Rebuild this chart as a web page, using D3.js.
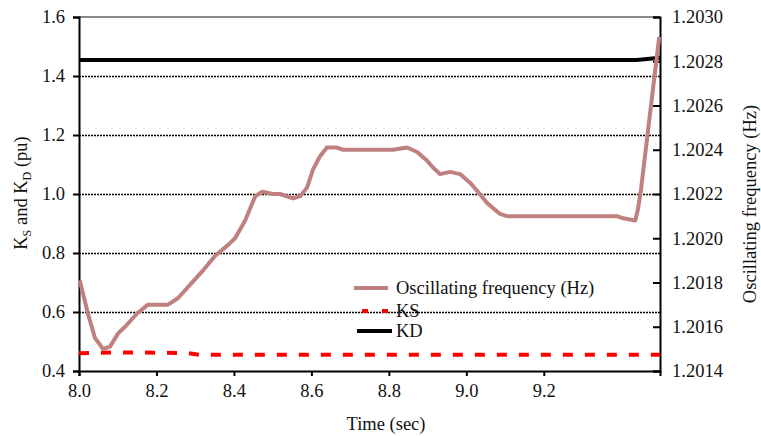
<!DOCTYPE html>
<html>
<head>
<meta charset="utf-8">
<script src="https://cdn.jsdelivr.net/npm/d3@7"></script>
<style>
  body { margin: 0; background: #fff; }
  svg text { font-family: "Liberation Serif", "Times New Roman", serif; }
</style>
</head>
<body>
<div id="chart"></div>
<script>
// oscillating frequency curve (Hz)
var freqTime = [8.002, 8.023, 8.041, 8.062, 8.080, 8.101, 8.119, 8.150, 8.178, 8.204,
  8.230, 8.256, 8.287, 8.318, 8.351, 8.385, 8.403, 8.429, 8.455, 8.473,
  8.501, 8.519, 8.553, 8.571, 8.589, 8.604, 8.622, 8.640, 8.666, 8.682,
  8.811, 8.847, 8.873, 8.899, 8.914, 8.932, 8.958, 8.984, 9.010, 9.030,
  9.053, 9.087, 9.105, 9.389, 9.405, 9.436, 9.443, 9.451, 9.472, 9.498];
var freqVal = [1.20181, 1.20166, 1.20155, 1.20150, 1.20151, 1.20157, 1.20160, 1.20166, 1.20170, 1.20170,
  1.20170, 1.20173, 1.20179, 1.20185, 1.20192, 1.20197, 1.20200, 1.20208, 1.20219, 1.20221,
  1.20220, 1.20220, 1.20218, 1.20219, 1.20223, 1.20231, 1.20237, 1.20241, 1.20241, 1.20240,
  1.20240, 1.20241, 1.20239, 1.20235, 1.20232, 1.20229, 1.20230, 1.20229, 1.20225, 1.20221,
  1.20216, 1.20211, 1.20210, 1.20210, 1.20209, 1.20208, 1.20213, 1.20222, 1.20253, 1.20291];

// KS and KD (pu)
var ksTime = [8.0, 8.05, 8.12, 8.28, 8.31, 9.5];
var ksVal = [0.460, 0.462, 0.463, 0.461, 0.455, 0.455];
var kdTime = [8.0, 9.44, 9.5];
var kdVal = [1.454, 1.454, 1.462];

var xTicks = [8.0, 8.2, 8.4, 8.6, 8.8, 9.0, 9.2];
var leftTicks = [0.4, 0.6, 0.8, 1.0, 1.2, 1.4, 1.6];
var gridTicks = [0.6, 0.8, 1.0, 1.2, 1.4];
var rightTicks = [1.2014, 1.2016, 1.2018, 1.2020, 1.2022, 1.2024, 1.2026, 1.2028, 1.2030];

var W = 761, H = 436;
var mLeft = 79, mRight = 660, mTop = 17, mBottom = 371;
var FS = 18.5;

var svg = d3.select("#chart")
  .append("svg")
    .attr("width", W)
    .attr("height", H)

svg.append("rect").attr("width", W).attr("height", H).attr("fill", "#fff")

var x = d3.scaleLinear().domain([8.0, 9.5]).range([mLeft, mRight]);
var yL = d3.scaleLinear().domain([0.4, 1.6]).range([mBottom, mTop]);
var yR = d3.scaleLinear().domain([1.2014, 1.2030]).range([mBottom, mTop]);

// dotted gridlines
svg.append("g").selectAll("line")
  .data(gridTicks)
  .enter().append("line")
    .attr("x1", mLeft).attr("x2", mRight)
    .attr("y1", function(d) { return Math.round(yL(d)) + 0.5; })
    .attr("y2", function(d) { return Math.round(yL(d)) + 0.5; })
    .attr("stroke", "#000")
    .attr("stroke-width", 1.4)
    .attr("stroke-dasharray", "2,1")

// grey top border
svg.append("line")
  .attr("x1", mLeft).attr("x2", mRight)
  .attr("y1", yL(1.6)).attr("y2", yL(1.6))
  .attr("stroke", "#8a8a8a")
  .attr("stroke-width", 2)

// axes
var axL = svg.append("g")
  .attr("transform", "translate(" + mLeft + ",0)")
  .call(d3.axisLeft(yL).tickValues(leftTicks).tickFormat(d3.format(".1f"))
    .tickSizeOuter(0).tickSize(6).tickPadding(8))

var axR = svg.append("g")
  .attr("transform", "translate(" + mRight + ",0)")
  .call(d3.axisRight(yR).tickValues(rightTicks).tickFormat(d3.format(".4f"))
    .tickSizeOuter(0).tickSize(-7).tickPadding(12))

var axB = svg.append("g")
  .attr("transform", "translate(0," + mBottom + ")")
  .call(d3.axisBottom(x).tickValues(xTicks).tickFormat(d3.format(".1f"))
    .tickSizeOuter(0).tickSize(5).tickPadding(8))

svg.selectAll(".tick text").attr("font-size", FS).attr("fill", "#111")
  .attr("font-family", '"Liberation Serif", "Times New Roman", serif')
svg.selectAll(".domain, .tick line").attr("stroke", "#000").attr("stroke-width", 2)

// series
var line = d3.line()
  .x(function(d) { return x(d[0]); })

var kd = kdTime.map(function(t, i) { return [t, kdVal[i]]; });
var ks = ksTime.map(function(t, i) { return [t, ksVal[i]]; });
var fr = freqTime.map(function(t, i) { return [t, freqVal[i]]; });

svg.append("path")
  .datum(kd)
  .attr("d", line.y(function(d) { return yL(d[1]); }))
  .attr("fill", "none")
  .attr("stroke", "#000")
  .attr("stroke-width", 4)

svg.append("path")
  .datum(ks)
  .attr("d", line.y(function(d) { return yL(d[1]); }))
  .attr("fill", "none")
  .attr("stroke", "#ff0000")
  .attr("stroke-width", 4)
  .attr("stroke-dasharray", "10,12")

svg.append("path")
  .datum(fr)
  .attr("d", line.y(function(d) { return yR(d[1]); }))
  .attr("fill", "none")
  .attr("stroke", "#c08080")
  .attr("stroke-width", 4)
  .attr("stroke-linejoin", "round")

// legend
var legend = [
  {label: "Oscillating frequency (Hz)", color: "#c08080", dash: null, x1: 354, x2: 388, y: 288},
  {label: "KS", color: "#ff0000", dash: "6,14", x1: 362, x2: 388, y: 311},
  {label: "KD", color: "#000", dash: null, x1: 357, x2: 392, y: 331}
];
var lg = svg.append("g").selectAll("g").data(legend).enter().append("g")
lg.append("line")
  .attr("x1", function(d) { return d.x1; })
  .attr("x2", function(d) { return d.x2; })
  .attr("y1", function(d) { return d.y; })
  .attr("y2", function(d) { return d.y; })
  .attr("stroke", function(d) { return d.color; })
  .attr("stroke-width", 4)
  .attr("stroke-dasharray", function(d) { return d.dash; })
lg.append("text")
  .attr("x", 396)
  .attr("y", function(d) { return d.y + 6; })
  .attr("font-size", FS)
  .attr("fill", "#111")
  .text(function(d) { return d.label; })

// axis titles
svg.append("text")
  .attr("x", 386)
  .attr("y", 430)
  .attr("text-anchor", "middle")
  .attr("font-size", FS)
  .attr("fill", "#111")
  .text("Time (sec)")

var lt = svg.append("text")
  .attr("transform", "translate(27,193) rotate(-90)")
  .attr("text-anchor", "middle")
  .attr("font-size", FS)
  .attr("fill", "#111")
lt.append("tspan").text("K")
lt.append("tspan").attr("font-size", 12).attr("dy", 4).text("S")
lt.append("tspan").attr("dy", -4).text(" and K")
lt.append("tspan").attr("font-size", 12).attr("dy", 4).text("D")
lt.append("tspan").attr("dy", -4).text(" (pu)")

svg.append("text")
  .attr("transform", "translate(756,204) rotate(-90)")
  .attr("text-anchor", "middle")
  .attr("font-size", FS)
  .attr("fill", "#111")
  .text("Oscillating frequency (Hz)")
</script>
</body>
</html>
